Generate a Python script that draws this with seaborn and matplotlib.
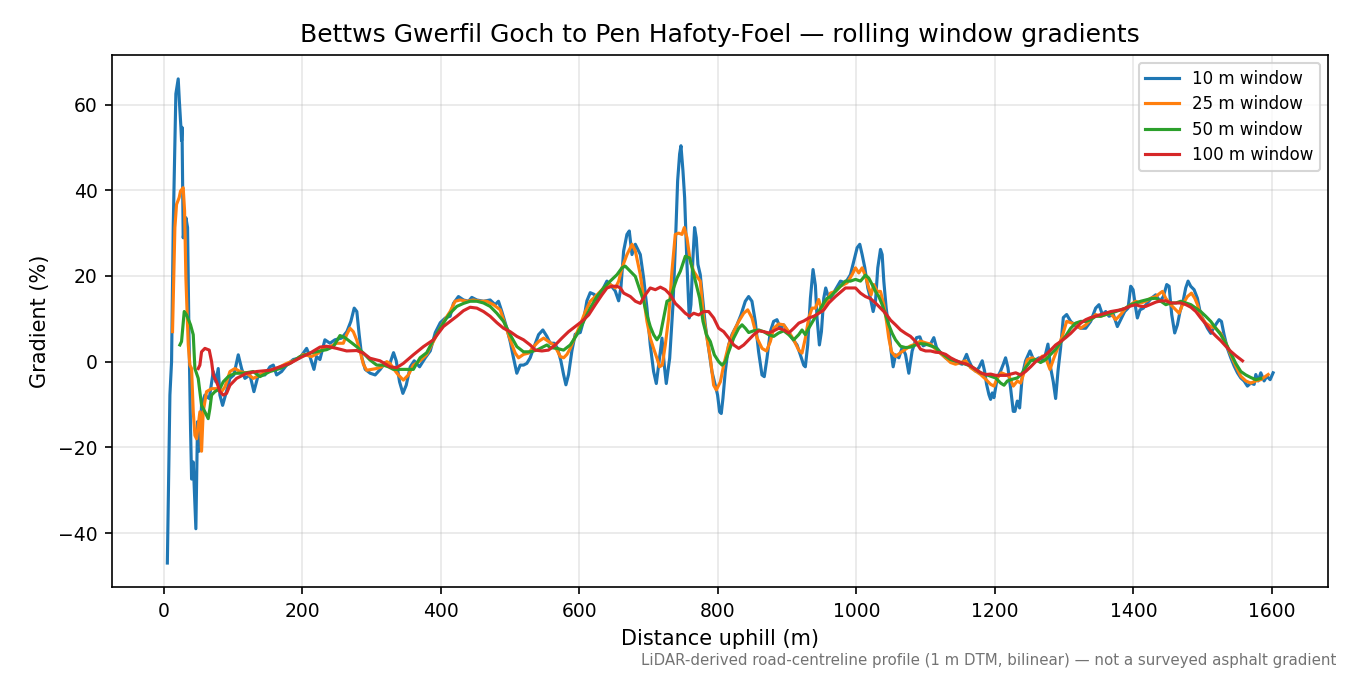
import matplotlib
matplotlib.use("Agg")
import matplotlib.pyplot as plt
import seaborn as sns
import pandas as pd

TITLE = "Bettws Gwerfil Goch to Pen Hafoty-Foel \u2014 rolling window gradients"
X_LABEL = "Distance uphill (m)"
Y_LABEL = "Gradient (%)"
FOOTNOTE = "LiDAR-derived road-centreline profile (1 m DTM, bilinear) \u2014 not a surveyed asphalt gradient"
SERIES_LABELS = ["10 m window", "25 m window", "50 m window", "100 m window"]
SERIES_COLORS = ["#1f77b4", "#ff7f0e", "#2ca02c", "#d62728"]
X_TICKS = [0, 200, 400, 600, 800, 1000, 1200, 1400, 1600]
Y_TICKS = [-40, -20, 0, 20, 40, 60]

# (distance m, gradient %)
W10 = [
    (5, -47), (8.7, -7.8), (11.1, 0), (13.5, 31.3), (17.3, 62.5), (20.7, 66), (22.3, 61),
    (24.6, 54.7), (25.5, 51.6), (26.2, 54.7), (27.9, 28.9), (31.8, 33.6), (34.2, 31.3),
    (36.1, 7.8), (38.5, -15.6), (40, -27.4), (42.4, -23.4), (46.2, -39), (48.6, -14),
    (51, -20.9), (54.4, -10.2), (59.2, -7.8), (65.5, -8.6), (71.3, -2.3), (75.1, -4.7),
    (78.5, -1.6), (80.9, -7.8), (84.8, -10.2), (91.5, -6.3), (95.4, -3.9), (101.1, -3.1),
    (107.4, 1.6), (112.2, -1.6), (117, -3.9), (124.3, -3.1), (130, -7), (136.3, -3.1),
    (145.9, -3.1), (153.2, -1.2), (158, -0.8), (162.8, -3.1), (170, -2.3), (177.2, -0.8),
    (186.8, 0.5), (196.5, 0.9), (206.1, 3.1), (210.9, 1.2), (216.7, -1.8), (220.5, 1.2),
    (225.3, 0.5), (232.5, 5.1), (239.8, 4.3), (247, 5.1), (256.6, 5.5), (264.2, 7),
    (270, 9.4), (274.8, 12.5), (278.6, 11.7), (282, 6.3), (285.9, 0.9), (290.7, -1.8),
    (297.9, -2.7), (305.1, -3.1), (312.4, -1.8), (319.6, -0.2), (326.8, -0.2), (331.6, 2.1),
    (335.5, 0.2), (340.3, -4.7), (345.1, -7.4), (349.9, -5.5), (355.7, -1.2), (361.5, 0.2),
    (369.2, -1.2), (377.4, 0.9), (384.6, 2.5), (391.9, 6.8), (399.1, 9.1), (406.4, 10.2),
    (413.3, 10.6), (418.1, 13.6), (425.3, 15.2), (432.6, 14.4), (439.8, 14.1), (444.6, 15),
    (451.8, 14.4), (461.5, 14.1), (471.1, 14.4), (478.3, 13.3), (483.1, 14.1), (488, 11.7),
    (495.2, 7.8), (500, 4.7), (504.8, 0.9), (509.6, -2.7), (514.5, -0.8), (519.3, -0.8),
    (524.1, -0.4), (528.9, 0.9), (533.7, 3.1), (541, 6.3), (547.2, 7.4), (553, 5.9),
    (557.8, 4.3), (563.6, 4.3), (568.4, 3.1), (573.2, 0.2), (577.1, -3), (580.5, -5.4),
    (584.3, -3), (589.1, 2.5), (593.9, 6.4), (601.2, 6.8), (606, 9.6), (610.8, 14.2),
    (615.6, 16.1), (621.4, 15.7), (625.2, 14.2), (632.5, 16.5), (639.7, 18.8), (644.5, 18),
    (651.7, 16.5), (656.6, 14.2), (659.9, 17.3), (663.8, 25.8), (668.6, 29.7), (672, 30.5),
    (675.9, 25), (680.7, 27.4), (687.9, 25), (692.7, 19.5), (697.5, 12.5), (702.3, 3.9),
    (707.1, -2.3), (711, -5.1), (714.4, -0.8), (719.2, 5.5), (722.5, -0.8), (725.4, -5.1),
    (730.3, 0.8), (735.1, 13.3), (738.4, 26.6), (741.8, 42.2), (744.7, 48.5), (746.6, 50.4),
    (749.5, 44.5), (751.9, 38.3), (755.3, 22.7), (758.6, 10.2), (761, 13.3), (763.9, 24.2),
    (766.3, 31.3), (768.7, 28.9), (771.1, 22.7), (774.5, 20.3), (778.4, 14.1), (781.7, 8.6),
    (786.5, 3.1), (791.3, -2.3), (796.2, -5.5), (799.5, -7.8), (802.4, -11.7), (804.8, -12.1),
    (807.2, -8.6), (810.6, -2.3), (815.4, 3.9), (820.2, 6.3), (827.5, 8.6), (833.2, 10.9),
    (839.5, 14.1), (844.3, 15.2), (849.1, 14.1), (853.9, 9.4), (858.7, 2.3), (863.6, -3.1),
    (866.9, -3.5), (870.8, 0.8), (875.6, 7), (880.4, 9.4), (885.2, 9.8), (890.1, 7.8),
    (894.9, 8.6), (899.7, 7.4), (906.9, 5.5), (914.2, 3.9), (919, 1.6), (923.8, -0.8),
    (926.2, -1.2), (929.6, 3.9), (933.5, 14.8), (937.3, 21.5), (940.7, 17.8), (943.1, 10.2),
    (946.5, 3.9), (949.4, 7), (952.8, 14.8), (955.6, 17.2), (958.5, 15.6), (962.4, 14.8),
    (969.6, 16.8), (976.9, 18.8), (984.1, 18.4), (991.3, 20.3), (996.1, 23.4), (1001, 26.6),
    (1004.8, 27.4), (1008.2, 25), (1012.1, 21.9), (1016.4, 17.2), (1020.2, 14.8),
    (1024.1, 11.7), (1027.5, 14.1), (1030.8, 21.9), (1034.7, 26.2), (1037.1, 25),
    (1039.5, 18.8), (1042.9, 12.5), (1046.7, 7.8), (1050.1, 2.3), (1053, -1.2), (1056.4, 1.6),
    (1061.2, 0.9), (1066, 3.3), (1070.8, 1.7), (1075.6, -2.7), (1080.4, 2.5), (1086.7, 5.6),
    (1091.5, 5.8), (1096.3, 3.7), (1102.1, 4.1), (1106.9, 4.1), (1111.7, 5.6), (1115.6, 3.3),
    (1121.4, 2.1), (1128.6, 0.9), (1135.8, 0.2), (1145.5, -0.2), (1152.7, -0.6), (1159, 1.7),
    (1162.3, 0.2), (1167.1, -1.4), (1171.9, -2.2), (1176.8, -1.4), (1181.6, 0.2), (1185, -2.2),
    (1187.9, -5.3), (1191.3, -7.7), (1193.7, -8.8), (1196.1, -7.3), (1198.5, -8.4),
    (1203.3, -3.8), (1208.1, -2.2), (1212, -0.6), (1215.3, 0.9), (1218.7, -1.4), (1222.5, -6.1),
    (1226.4, -11.6), (1228.8, -11.6), (1232.2, -9.2), (1235.6, -10.8), (1239.5, -3.1),
    (1244.2, 0.2), (1250.5, 2.5), (1256.3, 0.2), (1263.5, 0.9), (1270.7, 0.2), (1276.5, 4.1),
    (1280.3, -1.4), (1284.2, -4.7), (1287.6, -8.6), (1291, -2.2), (1294.8, 3.3), (1298.7, 10.3),
    (1303.5, 11), (1309.3, 9.4), (1316.5, 8.4), (1323.7, 7.8), (1331, 7.8), (1338.2, 9.4),
    (1345.4, 12.5), (1350.2, 13.3), (1355.1, 11), (1359.9, 11.7), (1364.7, 10.6), (1371, 11),
    (1376.7, 8.2), (1381.5, 9.8), (1387.3, 11.7), (1392.2, 12.5), (1396, 17.6), (1399.4, 16.8),
    (1403.2, 12.5), (1405.6, 10.2), (1409.4, 12.1), (1414.3, 12.5), (1420, 13.7), (1425.8, 14.8),
    (1432.1, 15.6), (1438.3, 14.1), (1443.1, 15.2), (1448, 18), (1451.4, 17.6), (1455.2, 11),
    (1459.5, 6.7), (1463.4, 8.6), (1467.2, 11.7), (1471.6, 14.1), (1475.4, 17.2), (1478.8, 18.8),
    (1482.6, 17.6), (1487.5, 16.8), (1492.3, 14.8), (1497.1, 10.9), (1502, 9.4), (1506.8, 7.8),
    (1511.6, 6.6), (1515.4, 7.8), (1520.2, 9), (1523.6, 9.8), (1527, 9.4), (1530.8, 6.3),
    (1535.6, 3.1), (1540.5, 0.9), (1545.3, -1), (1550.1, -2.6), (1554.9, -3.8), (1559.7, -4.5),
    (1564.5, -5.7), (1569.4, -5), (1574.2, -5.3), (1576.6, -3), (1580, -4.5), (1583.8, -2.6),
    (1588.6, -4.5), (1592.5, -3.4), (1597.3, -4.2), (1601.6, -2.6),
]

W25 = [
    (12.5, 7), (15.9, 31.3), (18.3, 36.7), (22.1, 38.3), (24, 39.8), (27.9, 40.6), (29.9, 35.2),
    (31.8, 19.5), (35.2, 3.9), (37.6, -0.8), (40, -1.6), (42.4, -11.7), (44.8, -17.2),
    (47.2, -18), (52, -11.7), (54.4, -20.9), (56.8, -11.7), (61.6, -7), (68.9, -6.3),
    (76.1, -6.3), (83.3, -7), (88.1, -5.9), (95.4, -2.3), (102.6, -1.6), (109.8, -2.3),
    (119.5, -2.7), (129.1, -3.9), (138.7, -3.1), (148.3, -2.3), (162.8, -1.6), (177.2, -0.4),
    (191.7, 0.5), (201.3, 1.7), (213.4, 1.2), (223, 2), (230.2, 3.1), (239.8, 3.5),
    (249.5, 4.3), (259.1, 4.3), (263.9, 6.3), (268.7, 7.8), (273.5, 7), (278.3, 5.1),
    (283.2, 2.5), (288, -0.6), (292.8, -2), (300, -1.8), (307.2, -1.6), (314.5, -1.2),
    (321.7, 0), (326.5, -0.4), (331.3, -1.6), (338.5, -3.1), (345.8, -4.3), (353, -3.1),
    (360.2, -0.8), (369.9, 0.2), (379.5, 1.7), (389.1, 4.7), (398.8, 7.8), (408.4, 10.5),
    (413.3, 11.7), (420.5, 14.1), (427.8, 14.4), (437.4, 14.1), (447, 14.4), (456.7, 14.1),
    (466.3, 14.1), (475.9, 13.3), (485.6, 12.1), (492.8, 8.6), (500, 5.1), (507.3, 2),
    (512.1, 0.9), (519.3, 1.7), (526.6, 2), (533.8, 3.5), (541, 4.7), (548.3, 5.5),
    (555.5, 4.7), (562.7, 3.9), (567.6, 2.7), (572.4, 1.2), (577.2, 0.9), (582, 1.7),
    (586.8, 3.1), (594, 5.9), (601.2, 8.6), (608.5, 11.7), (615.7, 14.1), (625.4, 15.6),
    (635, 17.2), (644.6, 18), (651.9, 17.2), (656.7, 18.8), (661.5, 21.9), (668.7, 25),
    (676, 27.4), (680.8, 25.8), (687.9, 20.3), (692.7, 14.8), (697.5, 9.4), (702.3, 5.5),
    (707.1, 3.1), (711.9, 0.8), (715.7, -1.2), (719.6, -0.8), (724, 3.9), (728.8, 10.2),
    (733.6, 21.1), (738.4, 29.7), (743.3, 30), (748.1, 29.7), (751.4, 31.3), (755.3, 28.9),
    (760.1, 23.4), (764.9, 21.1), (769.7, 19.9), (774.5, 18.8), (779.4, 10.2), (784.2, 5.5),
    (789, 0.8), (793.8, -5.5), (797.7, -6.6), (803.5, -4.7), (808.3, -0.8), (815.5, 3.9),
    (822.7, 7), (830, 9.4), (837.2, 11.3), (843, 12.1), (849.2, 10.2), (856.5, 5.5),
    (863.7, 3.1), (870, 2.5), (875.7, 4.7), (880.5, 7.8), (887.7, 8.8), (894.9, 8.6),
    (902.2, 7), (909.4, 5.1), (916.6, 2.7), (921.4, 2), (926.2, 5.5), (931.1, 10.2),
    (935.9, 12.5), (940.7, 12.5), (945.5, 14.5), (950.3, 11.7), (955.1, 12.9), (962.4, 16),
    (969.6, 16.4), (976.9, 17.6), (986.5, 18.4), (993.7, 20.3), (998.6, 21.9), (1003.4, 20.7),
    (1008.2, 21.9), (1013, 20), (1017.8, 17.2), (1021.2, 15.6), (1025, 18), (1029.9, 16.4),
    (1034.7, 16.4), (1039.5, 13.3), (1043.4, 9.4), (1046.7, 5.5), (1050.6, 2.3), (1056.4, 1.2),
    (1063.6, 2.1), (1070.8, 2.9), (1078.1, 3.7), (1085.3, 4.1), (1092.5, 4.8), (1099.8, 4.4),
    (1107, 4.1), (1114.2, 2.9), (1121.4, 1.9), (1128.7, 0.9), (1135.9, -0.2), (1143.1, -0.6),
    (1150.4, -0.2), (1157.6, 0.2), (1164.8, -1.4), (1172.1, -2.2), (1179.3, -3), (1186.5, -4.1),
    (1193.8, -5.3), (1198.6, -5.7), (1203.4, -3.8), (1209.2, -2.6), (1215.4, -3), (1220.3, -3.4),
    (1226.5, -5.7), (1232.3, -4.5), (1237, -5), (1240.9, -3.1), (1246.7, 0.5), (1253.9, 0.9),
    (1261.1, 0.2), (1268.4, 1.3), (1273.2, 0.9), (1279.4, -1.8), (1285.2, 0.9), (1291, 3.3),
    (1297.3, 6), (1303.5, 9.4), (1309.3, 9.1), (1316.5, 8.7), (1323.7, 7.8), (1331, 8.6),
    (1338.2, 9.8), (1345.4, 11), (1352.6, 10.6), (1359.9, 11), (1367.1, 11.3), (1374.3, 9.8),
    (1381.5, 11), (1388.8, 12.5), (1396, 13.3), (1403.2, 14.1), (1410.5, 13.7), (1417.7, 14.1),
    (1424.9, 14.8), (1432.2, 15.2), (1438.4, 16), (1441.8, 16.4), (1446.6, 14.8), (1453.8, 13.3),
    (1461.1, 12.1), (1465.9, 11.3), (1470.7, 13.3), (1477.9, 15.2), (1483.7, 16), (1488.5, 14.8),
    (1492.4, 13.3), (1497.1, 10.6), (1504.3, 9), (1511.6, 8.2), (1518.8, 7.8), (1526, 6.6),
    (1533.3, 4.3), (1540.5, 1.6), (1547.7, -1), (1555, -3.4), (1562.2, -4.5), (1569.4, -5),
    (1576.6, -4.5), (1583.9, -4.2), (1591.1, -3.4), (1594.5, -3),
]

W50 = [
    (23.1, 3.9), (25.5, 4.7), (29.4, 11.7), (32.8, 10.9), (38.5, 8.6), (42.4, 6.3), (44.8, -1.6),
    (49.6, -3.9), (54.4, -10.2), (59.2, -11.7), (64, -13.3), (66.5, -10.9), (68.9, -7.8),
    (73.7, -7), (80.9, -6.3), (85.7, -4.7), (92.9, -3.5), (102.6, -2.7), (114.6, -2.7),
    (129, -2.3), (138.7, -3.5), (153.2, -2.3), (167.6, -1.6), (182.1, -0.4), (196.5, 1.2),
    (211, 2), (225.4, 2.5), (235, 2.8), (244.7, 3.5), (254.3, 6.1), (261.5, 5.6), (268.7, 4.7),
    (278.4, 3.5), (288, 2), (297.6, 0.4), (307.3, -0.8), (316.9, -0.8), (324.1, -1.2),
    (331.3, -1.8), (341, -1.8), (350.6, -1.8), (360.2, -1.8), (365.1, -0.4), (369.9, 0.9),
    (379.5, 2.1), (389.2, 5.1), (398.8, 7.8), (408.4, 10.2), (413.3, 11.3), (423, 12.9),
    (432.6, 13.6), (442.2, 14.1), (451.9, 14.1), (461.5, 13.7), (471.1, 12.9), (480.8, 11.3),
    (490.4, 9.4), (500, 6.3), (509.7, 3.5), (519.3, 2.3), (528.9, 2.3), (538.6, 2.7),
    (548.2, 3.5), (553, 3.9), (557.8, 3.3), (567.5, 3.1), (577.1, 2.7), (586.7, 3.9),
    (596.4, 6.3), (606, 9.4), (615.6, 12.5), (625.3, 15.2), (634.9, 17.2), (644.5, 18.8),
    (654.2, 20.3), (661.4, 21.9), (666.2, 22.3), (673.4, 21.1), (680.7, 19.9), (687.9, 16.4),
    (692.7, 14.1), (697.5, 10.9), (702.3, 8.2), (707.1, 6.3), (711.9, 5.1), (716.8, 6.3),
    (721.6, 10.2), (726.4, 14.1), (731.2, 14.5), (736, 17.2), (740.9, 19.5), (745.7, 21.1),
    (752.9, 24.6), (759.2, 24.2), (764, 21.1), (768.8, 18), (773.6, 14.8), (778.4, 9.4),
    (783.3, 6.3), (789, 4.7), (794.8, 1.6), (801.1, 0), (805.9, -0.8), (810.7, 0), (815.5, 2.3),
    (822.7, 5.5), (830, 7.8), (834.8, 8.6), (839.6, 7.8), (844.4, 6.8), (851.6, 7.2),
    (858.9, 7.4), (866.1, 7), (873.3, 6.3), (880.5, 5.9), (887.7, 6.7), (895, 7.2), (902.2, 6.3),
    (909.4, 5.1), (916.6, 6.3), (921.4, 7.4), (926.2, 6.3), (931.1, 7.8), (938.3, 9.8),
    (945.5, 11.7), (952.8, 13.7), (957.6, 14.8), (962.4, 15.2), (969.6, 16.4), (976.9, 17.6),
    (984.1, 18.8), (991.3, 18.8), (998.6, 19.2), (1005.8, 18.8), (1013, 20.2), (1017.8, 19.5),
    (1022.6, 18), (1027.5, 16.4), (1032.3, 15.2), (1037.1, 13.3), (1041.9, 11), (1046.7, 8.6),
    (1051.6, 6.6), (1056.4, 5.1), (1063.6, 3.6), (1070.8, 3.3), (1078.1, 3.4), (1085.3, 3.9),
    (1092.5, 4.2), (1099.8, 4.1), (1107, 3.7), (1114.2, 3.3), (1121.4, 2.1), (1128.7, 1.3),
    (1135.9, 0.5), (1143.1, 0.2), (1150.4, -0.2), (1157.6, -0.6), (1164.8, -1), (1172.1, -1.8),
    (1179.3, -2.6), (1186.5, -3), (1193.8, -3.4), (1201, -3.8), (1208.2, -5), (1213.1, -5.5),
    (1217.9, -4.5), (1225.1, -4.1), (1232.3, -3.8), (1239.6, -2.6), (1244.2, -1.4),
    (1251.5, 0.2), (1258.7, 0.5), (1265.9, -0.2), (1273.2, 0.5), (1280.4, 1.7), (1287.6, 2.9),
    (1294.8, 4.5), (1302.1, 6), (1309.3, 7.8), (1316.5, 9), (1323.7, 9.4), (1331, 9.4),
    (1338.2, 9.8), (1345.4, 10.6), (1352.7, 10.6), (1359.9, 11), (1367.1, 11.3), (1374.4, 11.7),
    (1381.6, 12.1), (1388.8, 12.5), (1396.1, 13.3), (1403.3, 13.7), (1410.5, 14.1),
    (1417.8, 14.4), (1425, 14.7), (1432.2, 14.8), (1439.5, 14.1), (1446.7, 13.3), (1453.9, 13.7),
    (1461.2, 13.7), (1468.4, 14.1), (1475.6, 13.7), (1482.9, 13.3), (1490.1, 12.5),
    (1497.1, 11.7), (1504.3, 10.6), (1511.6, 9.4), (1518.8, 7.8), (1526, 6.3), (1533.3, 4.3),
    (1540.5, 2), (1547.7, -0.4), (1555, -2.3), (1562.2, -3.1), (1569.4, -3.7), (1576.7, -4.2),
    (1583.9, -3.9),
]

W100 = [
    (49.6, -1.6), (52, -0.8), (54.4, 2.3), (59.2, 3.1), (65.5, 2.7), (68.9, 0), (71.3, -3.1),
    (76.1, -4.7), (80.9, -7), (85.7, -7.8), (90.5, -7.4), (95.4, -5.5), (105, -3.9),
    (119.5, -2.7), (134, -2.3), (153.2, -2), (167.6, -1.2), (182.1, -0.4), (196.5, 0.9),
    (211, 2), (225.4, 3.4), (235, 3.6), (249.5, 3.1), (263.9, 2.5), (278.4, 2.6), (288, 2),
    (297.6, 0.8), (312.1, 0.2), (326.5, -1.2), (336.1, -1.4), (345.8, -0.4), (360.2, 1.6),
    (374.7, 3.5), (389.2, 5.1), (403.6, 8.2), (413.3, 9.4), (423, 10.6), (432.6, 11.9),
    (442.2, 12.7), (451.9, 12.5), (461.5, 11.7), (471.1, 10.6), (480.8, 9.1), (490.4, 7.8),
    (500, 7), (509.7, 5.9), (519.3, 5.1), (528.9, 3.9), (536.2, 2.7), (545.8, 2.5),
    (555.4, 2.7), (565.1, 3.9), (574.7, 5.5), (584.3, 7), (594, 8.2), (603.6, 9.4),
    (613.3, 10.9), (622.9, 13.3), (632.5, 15.6), (639.8, 17.2), (647, 17.6), (654.2, 17.6),
    (659.1, 17.2), (663.9, 16), (673.5, 15.2), (680.8, 14.1), (687.9, 13.6), (695.1, 15.6),
    (702.3, 17.2), (709.6, 16.8), (716.8, 17.4), (724, 16.8), (731.2, 15.6), (738.5, 13.6),
    (745.7, 12.5), (752.9, 11.3), (759.2, 10.6), (765, 11.3), (772.2, 10.9), (779.4, 11.7),
    (786.6, 11.7), (793.9, 10.2), (801.1, 7.8), (808.3, 7), (815.6, 5.5), (822.8, 3.9),
    (830, 3.1), (837.2, 3.9), (844.5, 5.1), (851.7, 6.3), (858.9, 7.2), (866.2, 7),
    (873.4, 6.7), (880.6, 7.2), (887.8, 7.8), (895.1, 7.4), (902.3, 6.7), (909.5, 7.8),
    (916.8, 9), (924, 9.5), (931.2, 10.2), (938.4, 10.6), (945.7, 11.3), (952.9, 12.1),
    (960.1, 13.7), (969.6, 15.2), (976.9, 16.2), (984.1, 17.2), (991.3, 17.2), (998.6, 17.2),
    (1005.8, 16), (1013, 15.2), (1020.3, 14.7), (1027.5, 13.7), (1034.7, 12.5), (1042, 11.3),
    (1049.2, 9.7), (1056.4, 8.6), (1063.7, 7.4), (1070.9, 6.6), (1078.1, 5.9), (1085.4, 4.7),
    (1092.6, 2.9), (1099.8, 2.5), (1107.1, 2.5), (1114.3, 2.2), (1121.5, 2.1), (1128.8, 1.7),
    (1136, 0.9), (1143.2, 0.3), (1150.5, -0.2), (1157.7, -0.5), (1164.9, -1), (1172.2, -1.8),
    (1179.4, -2.6), (1186.6, -3), (1193.9, -2.9), (1201.1, -3.2), (1208.3, -3.2),
    (1215.6, -3.2), (1222.8, -2.9), (1230, -2.6), (1237, -3.1), (1244.2, -2.3), (1251.5, -1.2),
    (1258.7, 0), (1265.9, 0.8), (1273.2, 1.6), (1280.4, 2.7), (1287.6, 3.9), (1294.8, 4.7),
    (1302.1, 5.6), (1309.3, 6.6), (1316.5, 7.8), (1323.8, 9), (1331, 9.8), (1338.2, 10.3),
    (1345.5, 10.6), (1352.7, 11), (1359.9, 11.3), (1367.2, 11.7), (1374.4, 11.9),
    (1381.6, 12.1), (1388.9, 12.5), (1396.1, 13), (1403.3, 13.3), (1410.6, 12.9),
    (1417.8, 12.9), (1425, 13.4), (1432.3, 13.9), (1439.5, 14.2), (1446.7, 14.2), (1454, 13.7),
    (1461.2, 13.7), (1468.4, 13.7), (1475.7, 13.3), (1482.9, 12.7), (1490.1, 11.7),
    (1497.1, 10.2), (1504.3, 8.8), (1511.6, 7.2), (1518.8, 6), (1526, 4.9), (1533.3, 3.6),
    (1540.5, 2.4), (1547.7, 1.4), (1557.4, 0.2),
]

SERIES_POINTS = [W10, W25, W50, W100]

frames = []
for label, pts in zip(SERIES_LABELS, SERIES_POINTS):
    frames.append(pd.DataFrame({"distance": [p[0] for p in pts],
                                "gradient": [p[1] for p in pts],
                                "window": label}))
df = pd.concat(frames, ignore_index=True)

plt.rcParams["font.family"] = ["DejaVu Sans"]
fig = plt.figure(figsize=(9, 4.5), dpi=150)
ax = fig.add_axes([0.083, 0.130, 0.901, 0.789])

for label, color in zip(SERIES_LABELS, SERIES_COLORS):
    sub = df[df["window"] == label]
    sns.lineplot(data=sub, x="distance", y="gradient", ax=ax, color=color,
                 label=label, linewidth=1.5, estimator=None, sort=True)

ax.set_xticks(X_TICKS)
ax.set_yticks(Y_TICKS)
ax.tick_params(labelsize=9)
ax.grid(True, alpha=0.3)
ax.set_title(TITLE, fontsize=12)
ax.set_xlabel(X_LABEL, fontsize=10)
ax.set_ylabel(Y_LABEL, fontsize=10)
ax.legend(loc="upper right", fontsize=8, labelspacing=0.45)
fig.text(0.99, 0.010, FOOTNOTE, ha="right", va="bottom", fontsize=7.2, color="0.45")

fig.savefig("out.png", dpi=150)
